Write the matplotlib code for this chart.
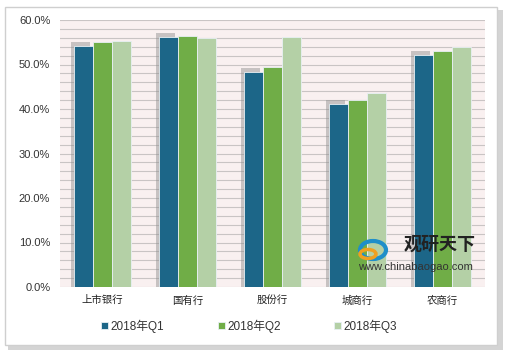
import matplotlib.pyplot as plt
import matplotlib.patches as mpatches
import numpy as np

plt.rcParams['font.family'] = ['Liberation Sans', 'Noto Sans CJK SC']

# 数据
categorias = ["上市银行", "国有行", "股份行", "城商行", "农商行"]
series = ["2018年Q1", "2018年Q2", "2018年Q3"]
q1 = [54.2, 56.1, 48.4, 41.1, 52.1]
q2 = [55.1, 56.5, 49.5, 42.0, 53.0]
q3 = [55.3, 56.0, 56.2, 43.5, 53.9]
yticks = [0, 10, 20, 30, 40, 50, 60]

colores = ["#1c6688", "#70ad47", "#b4d0a6"]

fig = plt.figure(figsize=(5.07, 3.52), dpi=100)

# marco exterior con sombra
fig.patches.append(mpatches.Rectangle((8 / 507, 2 / 352), 495 / 507, 340 / 352,
                                      transform=fig.transFigure, facecolor="#d4d4d4",
                                      edgecolor="none", zorder=-3))
fig.patches.append(mpatches.Rectangle((5 / 507, 7 / 352), 492 / 507, 338 / 352,
                                      transform=fig.transFigure, facecolor="white",
                                      edgecolor="#cfcfcf", linewidth=1, zorder=-2))

ax = fig.add_axes([60 / 507, 65 / 352, 425 / 507, 267 / 352])
ax.set_facecolor("#f9f0f0")

x = np.arange(len(categorias))
w = 0.227

# sombra de la primera serie
ax.bar(x - w - 0.03, np.array(q1) + 0.9, w, color="#8c8c8c", alpha=0.45, zorder=2)

for i, (vals, c) in enumerate(zip([q1, q2, q3], colores)):
    ax.bar(x + (i - 1) * w, vals, w, color=c, edgecolor="#e8f0f4", linewidth=0.6,
           label=series[i], zorder=3)

ax.set_ylim(0, 60)
ax.set_xlim(-0.5, len(categorias) - 0.5)
ax.set_yticks(yticks)
ax.set_yticklabels([f"{v:.1f}%" for v in yticks], fontsize=8, color="#333333")
ax.set_yticks(np.arange(0, 61, 2), minor=True)
ax.set_xticks(x)
ax.set_xticklabels(categorias, fontsize=7.5, color="#222222")
ax.tick_params(axis="both", which="both", length=0, pad=7)
ax.tick_params(axis="x", pad=6)
ax.grid(True, which="both", axis="y", color="#c9c4c4", linewidth=0.8, zorder=1)
ax.set_axisbelow(True)
for s in ax.spines.values():
    s.set_visible(False)

fig.legend(loc="center", bbox_to_anchor=(249 / 507, 1 - 326 / 352), ncol=3, frameon=False,
           fontsize=8.5, handlelength=0.6, handleheight=0.6, handletextpad=0.2,
           columnspacing=4.5, labelcolor="#333333")

# marca de agua
fig.text(440 / 507, 1 - 244 / 352, "观研天下", fontsize=13, fontweight="bold",
         family="Noto Sans CJK SC", color="#222222", ha="center", va="center", zorder=10)
fig.text(415 / 507, 1 - 267 / 352, "www.chinabaogao.com", fontsize=8,
         color="#333333", ha="center", va="center", zorder=10)
fig.patches.append(mpatches.Ellipse((373 / 507, 1 - 250 / 352), 26 / 507, 18 / 352,
                                    transform=fig.transFigure, facecolor="none",
                                    edgecolor="#1f8fc9", linewidth=3, zorder=10))
fig.patches.append(mpatches.Ellipse((368 / 507, 1 - 254 / 352), 16 / 507, 9 / 352,
                                    transform=fig.transFigure, facecolor="none",
                                    edgecolor="#f0a020", linewidth=2.5, zorder=10))

fig.savefig("out.png", dpi=100)
